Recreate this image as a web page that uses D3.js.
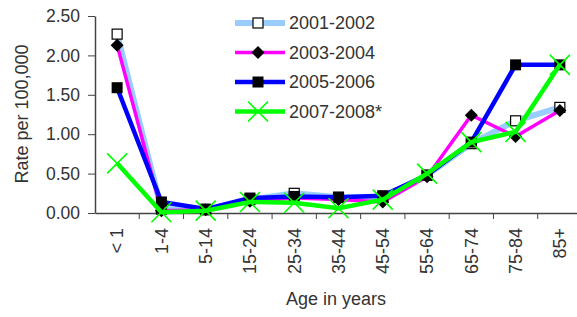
<!DOCTYPE html>
<html>
<head>
<meta charset="utf-8">
<script src="https://cdn.jsdelivr.net/npm/d3@7"></script>
<style>
  body { margin: 0; background: #fff; }
  text { font-family: "Liberation Sans", Arial, sans-serif; fill: #333; }
</style>
</head>
<body>
<svg class="chart" width="577" height="317"></svg>
<script>
// Age groups and rates per 100,000
const ageGroups = ["< 1", "1-4", "5-14", "15-24", "25-34", "35-44", "45-54", "55-64", "65-74", "75-84", "85+"];
const rates2001 = [2.27, 0.05, 0.04, 0.17, 0.25, 0.20, 0.20, 0.48, 0.88, 1.17, 1.34];
const rates2003 = [2.13, 0.03, 0.04, 0.15, 0.19, 0.17, 0.14, 0.46, 1.24, 0.97, 1.30];
const rates2005 = [1.59, 0.14, 0.05, 0.19, 0.21, 0.20, 0.22, 0.48, 0.90, 1.88, 1.88];
const rates2007 = [0.63, 0.01, 0.03, 0.14, 0.13, 0.06, 0.17, 0.50, 0.90, 1.03, 1.88];
const seriesNames = ["2001-2002", "2003-2004", "2005-2006", "2007-2008*"];
const yTicks = [0, 0.5, 1, 1.5, 2, 2.5];

const series = [
    { name: seriesNames[0], values: rates2001, color: "#99ccff", width: 6, marker: "open" },
    { name: seriesNames[1], values: rates2003, color: "#ff00ff", width: 3.5, marker: "diamond" },
    { name: seriesNames[2], values: rates2005, color: "#0000ff", width: 4.5, marker: "square" },
    { name: seriesNames[3], values: rates2007, color: "#00ff00", width: 4.5, marker: "cross" }
];

const svg = d3.select(".chart");
const margin = { top: 16, left: 95 };
const plotW = 487, plotH = 197;

const g = svg.append("g").attr("transform", `translate(${margin.left},${margin.top})`);

const x = d3.scaleBand().domain(ageGroups).range([0, plotW]);
const y = d3.scaleLinear().domain([0, 2.5]).range([plotH, 0]);

// y axis
const yAxis = g.append("g")
    .call(d3.axisLeft(y).tickValues(yTicks).tickFormat(d3.format(".2f")).tickSize(7).tickSizeOuter(0));
yAxis.selectAll("text").attr("font-size", "17.5px").attr("x", -15).style("fill", "#333");
yAxis.select(".domain").attr("stroke", "#444").attr("stroke-width", 1.5);
yAxis.selectAll(".tick line").attr("stroke", "#444");

// x axis
const xAxis = g.append("g")
    .attr("transform", `translate(0,${plotH})`)
    .call(d3.axisBottom(x).tickSize(0).tickSizeOuter(0));
xAxis.select(".domain").attr("stroke", "#444").attr("stroke-width", 1.5);
xAxis.selectAll(".tick text")
    .attr("font-size", "18px")
    .attr("transform", "rotate(-90)")
    .attr("text-anchor", "end")
    .attr("x", -15)
    .attr("y", 0)
    .attr("dy", "0.35em")
    .style("fill", "#333");

// tick marks between categories
g.append("g").selectAll("line")
    .data(ageGroups.slice(1))
    .enter().append("line")
    .attr("x1", d => x(d)).attr("x2", d => x(d))
    .attr("y1", plotH).attr("y2", plotH + 6)
    .attr("stroke", "#444");

// markers
function drawMarker(sel, type, color) {
    if (type === "open") {
        sel.append("rect").attr("x", -5).attr("y", -5).attr("width", 10).attr("height", 10)
            .attr("fill", "#fff").attr("stroke", "#000").attr("stroke-width", 1.2);
    } else if (type === "diamond") {
        sel.append("path").attr("d", "M0,-6.5L6.5,0L0,6.5L-6.5,0Z").attr("fill", "#000");
    } else if (type === "square") {
        sel.append("rect").attr("x", -5.5).attr("y", -5.5).attr("width", 11).attr("height", 11).attr("fill", "#000");
    } else {
        sel.append("path").attr("d", "M-10,-10L10,10M-10,10L10,-10")
            .attr("stroke", color).attr("stroke-width", 1.6).attr("fill", "none");
    }
}

const line = d3.line()
    .x((d, i) => x(ageGroups[i]) + x.bandwidth() / 2)
    .y(d => y(d));

series.forEach(s => {
    g.append("path")
        .datum(s.values)
        .attr("fill", "none")
        .attr("stroke", s.color)
        .attr("stroke-width", s.width)
        .attr("d", line);
    g.append("g").selectAll("g")
        .data(s.values)
        .enter().append("g")
        .attr("transform", (d, i) => `translate(${x(ageGroups[i]) + x.bandwidth() / 2},${y(d)})`)
        .each(function () { drawMarker(d3.select(this), s.marker, s.color); });
});

// legend
const legend = svg.append("g").attr("transform", "translate(235,23)");
series.forEach((s, i) => {
    const row = legend.append("g").attr("transform", `translate(0,${i * 29.5})`);
    row.append("line").attr("x1", 0).attr("x2", 50).attr("y1", 0).attr("y2", 0)
        .attr("stroke", s.color).attr("stroke-width", s.width);
    drawMarker(row.append("g").attr("transform", "translate(23,0)"), s.marker, s.color);
    row.append("text").attr("x", 54).attr("y", 0).attr("dy", "0.35em")
        .attr("font-size", "18px").text(s.name);
});

// axis titles
svg.append("text")
    .attr("transform", "translate(28,114) rotate(-90)")
    .attr("text-anchor", "middle")
    .attr("font-size", "18px")
    .text("Rate per 100,000");

svg.append("text")
    .attr("x", 336)
    .attr("y", 305)
    .attr("text-anchor", "middle")
    .attr("font-size", "18px")
    .text("Age in years");
</script>
</body>
</html>
